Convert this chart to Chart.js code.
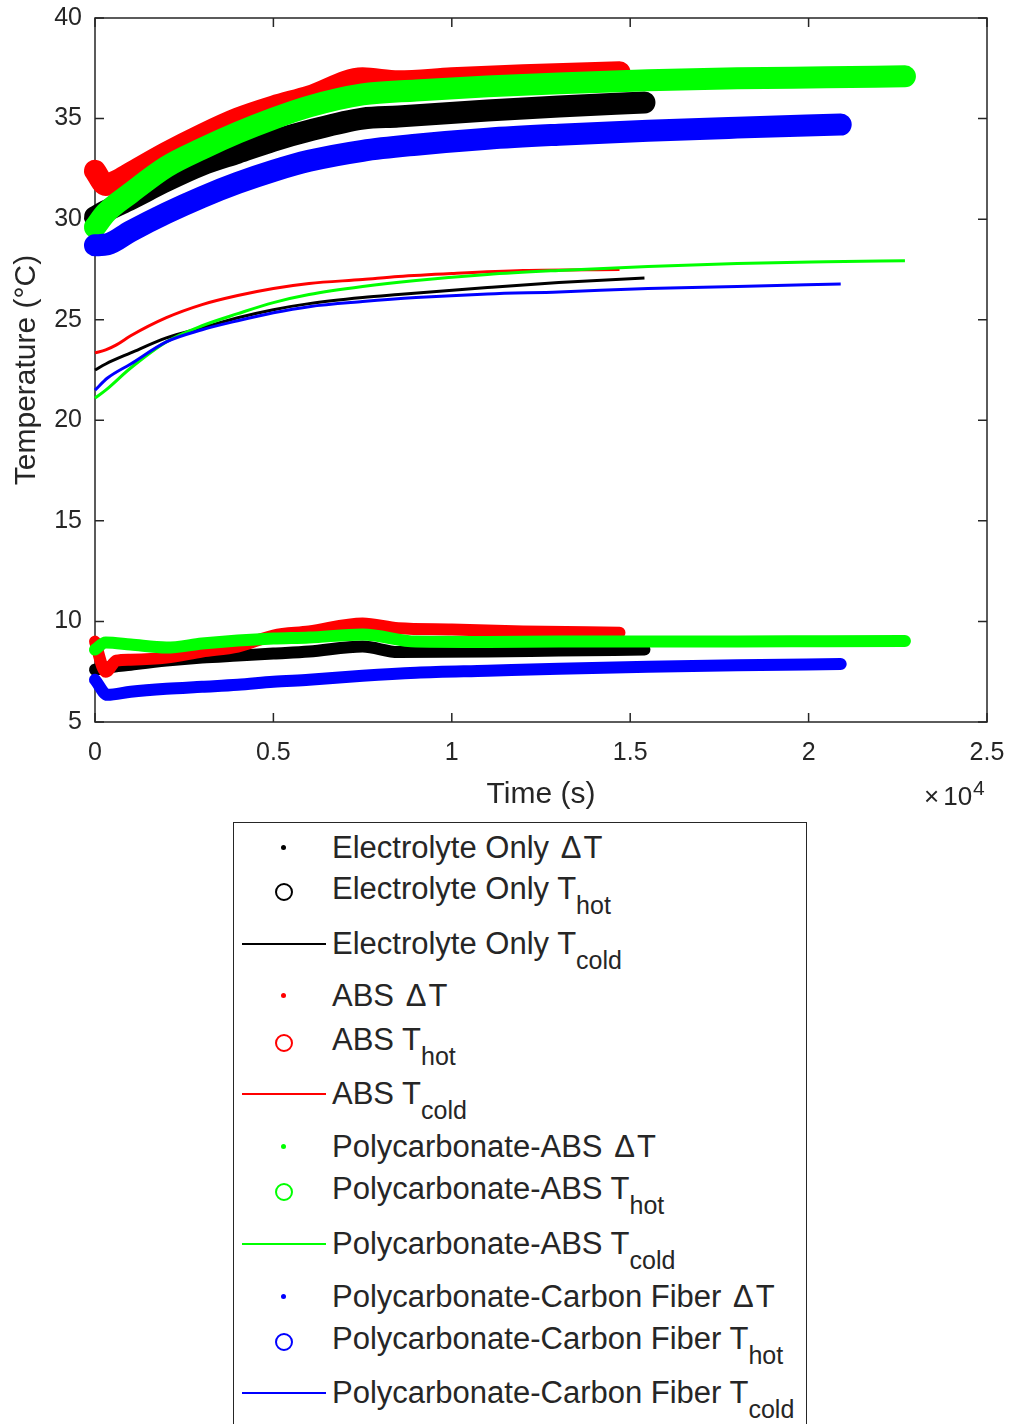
<!DOCTYPE html>
<html>
<head>
<meta charset="utf-8">
<script src="https://cdn.jsdelivr.net/npm/chart.js@4.4.0/dist/chart.umd.min.js"></script>
<style>
  html, body { margin: 0; padding: 0; background: #fff; width: 1011px; height: 1424px; overflow: hidden; }
  body { font-family: "Liberation Sans", Arial, sans-serif; color: #262626; position: relative; }
  #chartBox { position: absolute; left: 0; top: 0; width: 1011px; height: 820px; }
  #exp { position: absolute; left: 924px; top: 781px; font-size: 26px; white-space: nowrap; }
  #exp .ten { margin-left: 4px; }
  #exp sup { font-size: 21px; vertical-align: 10px; line-height: 0; margin-left: 1px; }
  #legend { position: absolute; left: 233px; top: 822px; width: 572px; height: 640px; border: 1.5px solid #262626; background: #fff; }
  .txt { position: absolute; left: 98px; font-size: 31px; line-height: 34px; white-space: nowrap; color: #262626; }
  .txt sub { font-size: 25px; vertical-align: -15px; line-height: 0; }
  .txt .dl { margin: 0 2px 0 3px; }
  .dot { position: absolute; left: 47px; width: 5px; height: 5px; border-radius: 50%; }
  .ring { position: absolute; left: 41px; width: 14px; height: 14px; border-radius: 50%; border: 2px solid; box-sizing: content-box; }
  .seg { position: absolute; left: 8px; width: 84px; height: 2px; }
</style>
</head>
<body>
<div id="chartBox"><canvas id="tempChart" width="1011" height="820"></canvas></div>
<div id="exp">&times;<span class="ten">10</span><sup>4</sup></div>
<div id="legend"></div>

<script>
// axis ticks
const xTickValues = [0, 5000, 10000, 15000, 20000, 25000];
const xTickLabels = ["0", "0.5", "1", "1.5", "2", "2.5"];
const yTickValues = [5, 10, 15, 20, 25, 30, 35, 40];

// Electrolyte only (black)
const timeElectrolyte = [0, 300, 1000, 2000, 3000, 4000, 5000, 6000, 7500, 8500, 11000, 13000, 15400];
const deltaElectrolyte = [7.6, 7.7, 7.85, 8.05, 8.2, 8.3, 8.4, 8.5, 8.75, 8.48, 8.5, 8.55, 8.6];
const hotElectrolyte = [30.1, 30.4, 31.0, 31.9, 32.7, 33.3, 33.9, 34.4, 35.0, 35.1, 35.4, 35.6, 35.8];
const coldElectrolyte = [22.5, 22.8, 23.35, 24.1, 24.6, 25.1, 25.5, 25.8, 26.1, 26.25, 26.6, 26.85, 27.07];

// ABS (red)
const timeABS = [0, 300, 600, 1000, 2000, 3000, 4000, 5000, 6000, 7500, 8500, 10000, 12000, 14700];
const deltaABS = [9.0, 7.5, 8.05, 8.1, 8.2, 8.5, 8.75, 9.3, 9.5, 9.9, 9.66, 9.6, 9.5, 9.44];
const hotABS = [32.4, 31.7, 31.9, 32.3, 33.3, 34.2, 35.0, 35.6, 36.1, 37.0, 36.85, 37.0, 37.15, 37.3];
const coldABS = [23.35, 23.5, 23.75, 24.2, 25.1, 25.75, 26.2, 26.55, 26.8, 27.0, 27.15, 27.3, 27.45, 27.5];

// Polycarbonate-ABS (green)
const timePCABS = [0, 300, 1000, 2000, 3000, 4000, 5000, 6000, 7500, 9000, 11000, 13000, 15500, 18000, 20500, 22700];
const deltaPCABS = [8.6, 8.95, 8.85, 8.7, 8.9, 9.05, 9.15, 9.2, 9.35, 9.0, 8.98, 9.0, 9.0, 9.0, 9.02, 9.03];
const hotPCABS = [29.6, 30.3, 31.3, 32.6, 33.5, 34.3, 35.0, 35.6, 36.2, 36.4, 36.6, 36.75, 36.9, 37.0, 37.05, 37.1];
const coldPCABS = [21.1, 21.5, 22.6, 23.9, 24.7, 25.3, 25.85, 26.25, 26.65, 26.95, 27.25, 27.45, 27.65, 27.8, 27.88, 27.93];

// Polycarbonate-Carbon Fiber (blue)
const timePCCF = [0, 350, 1000, 2000, 3000, 4000, 5000, 6000, 7500, 9000, 11000, 13000, 15500, 18000, 20900];
const deltaPCCF = [7.1, 6.35, 6.5, 6.65, 6.75, 6.85, 7.0, 7.1, 7.3, 7.45, 7.55, 7.65, 7.75, 7.82, 7.88];
const hotPCCF = [28.7, 28.75, 29.4, 30.3, 31.1, 31.8, 32.4, 32.9, 33.4, 33.7, 34.0, 34.2, 34.4, 34.55, 34.7];
const coldPCCF = [21.5, 22.1, 22.8, 23.9, 24.5, 24.95, 25.35, 25.65, 25.9, 26.1, 26.28, 26.38, 26.55, 26.65, 26.78];

const materials = [
  { name: "Electrolyte Only", color: "#000000", t: timeElectrolyte, d: deltaElectrolyte, h: hotElectrolyte, c: coldElectrolyte },
  { name: "ABS", color: "#ff0000", t: timeABS, d: deltaABS, h: hotABS, c: coldABS },
  { name: "Polycarbonate-ABS", color: "#00ff00", t: timePCABS, d: deltaPCABS, h: hotPCABS, c: coldPCABS },
  { name: "Polycarbonate-Carbon Fiber", color: "#0000ff", t: timePCCF, d: deltaPCCF, h: hotPCCF, c: coldPCCF }
];

function makeSet(label, times, values, color, width, cap) {
  return {
    label: label,
    data: times.map((t, i) => ({ x: t, y: values[i] })),
    borderColor: color,
    backgroundColor: color,
    borderWidth: width,
    borderCapStyle: cap,
    borderJoinStyle: "round",
    cubicInterpolationMode: "monotone",
    pointRadius: 0,
    fill: false,
    clip: false
  };
}

const datasets = [];
materials.forEach(m => {
  datasets.push(makeSet(m.name + " dT", m.t, m.d, m.color, 12, "round"));
  datasets.push(makeSet(m.name + " Thot", m.t, m.h, m.color, 22, "round"));
  datasets.push(makeSet(m.name + " Tcold", m.t, m.c, m.color, 3, "butt"));
});
// matlab draws later series on top
datasets.forEach((d, i) => { d.order = datasets.length - i; });

// box round the axes with inward ticks on all four sides
const boxPlugin = {
  id: "box",
  beforeDatasetsDraw(chart) {
    const { ctx, chartArea: a, scales } = chart;
    ctx.save();
    ctx.strokeStyle = "#262626";
    ctx.lineWidth = 1.5;
    ctx.strokeRect(a.left, a.top, a.right - a.left, a.bottom - a.top);
    ctx.beginPath();
    scales.x.ticks.forEach(t => {
      const px = scales.x.getPixelForValue(t.value);
      ctx.moveTo(px, a.bottom); ctx.lineTo(px, a.bottom - 9);
      ctx.moveTo(px, a.top); ctx.lineTo(px, a.top + 9);
    });
    scales.y.ticks.forEach(t => {
      const py = scales.y.getPixelForValue(t.value);
      ctx.moveTo(a.left, py); ctx.lineTo(a.left + 9, py);
      ctx.moveTo(a.right, py); ctx.lineTo(a.right - 9, py);
    });
    ctx.stroke();
    ctx.restore();
  }
};

const fontFam = "'Liberation Sans', Arial, sans-serif";

function noPad(s) {
  s.paddingTop = 0; s.paddingBottom = 0; s.paddingLeft = 0; s.paddingRight = 0;
}

new Chart(document.getElementById("tempChart"), {
  type: "line",
  data: { datasets: datasets },
  plugins: [boxPlugin],
  options: {
    responsive: false,
    animation: false,
    layout: { padding: { top: 18, right: 24, left: 0, bottom: 0 } },
    plugins: { legend: { display: false }, tooltip: { enabled: false } },
    scales: {
      x: {
        type: "linear",
        min: 0,
        max: 25000,
        afterBuildTicks: s => { s.ticks = xTickValues.map(v => ({ value: v })); },
        afterFit: s => { s.height = 98; noPad(s); },
        ticks: {
          color: "#262626",
          font: { family: fontFam, size: 25 },
          padding: 16,
          maxRotation: 0,
          callback: (v) => xTickLabels[xTickValues.indexOf(v)]
        },
        grid: { display: false, drawTicks: false },
        border: { display: false },
        title: { display: true, text: "Time (s)", color: "#262626", font: { family: fontFam, size: 30 }, padding: { top: 7, bottom: 7 } }
      },
      y: {
        type: "linear",
        min: 5,
        max: 40,
        afterBuildTicks: s => { s.ticks = yTickValues.map(v => ({ value: v })); },
        afterFit: s => { s.width = 95; noPad(s); },
        ticks: { color: "#262626", font: { family: fontFam, size: 25 }, padding: 13 },
        grid: { display: false, drawTicks: false },
        border: { display: false },
        title: { display: true, text: "Temperature (°C)", color: "#262626", font: { family: fontFam, size: 30 }, padding: { top: 9, bottom: 9 } }
      }
    }
  }
});

// legend, drawn as html so the subscripts stay real text
const legendRowsY = [848, 889, 944, 996, 1040, 1094, 1147, 1189, 1244, 1297, 1339, 1393];
const legend = document.getElementById("legend");
materials.forEach((m, k) => {
  const entries = [
    { kind: "dot", html: m.name + " <span class=\"dl\">&Delta;</span>T" },
    { kind: "ring", html: m.name + " T<sub>hot</sub>" },
    { kind: "seg", html: m.name + " T<sub>cold</sub>" }
  ];
  entries.forEach((e, j) => {
    const y = legendRowsY[k * 3 + j] - 823.5;
    const mark = document.createElement("div");
    mark.className = e.kind;
    if (e.kind === "dot") { mark.style.background = m.color; mark.style.top = (y - 2.5) + "px"; }
    if (e.kind === "ring") { mark.style.borderColor = m.color; mark.style.top = (y - 9 + 3) + "px"; }
    if (e.kind === "seg") { mark.style.background = m.color; mark.style.top = (y - 1) + "px"; }
    legend.appendChild(mark);
    const txt = document.createElement("div");
    txt.className = "txt";
    txt.innerHTML = e.html;
    txt.style.top = (y - 17) + "px";
    legend.appendChild(txt);
  });
});
</script>
</body>
</html>
